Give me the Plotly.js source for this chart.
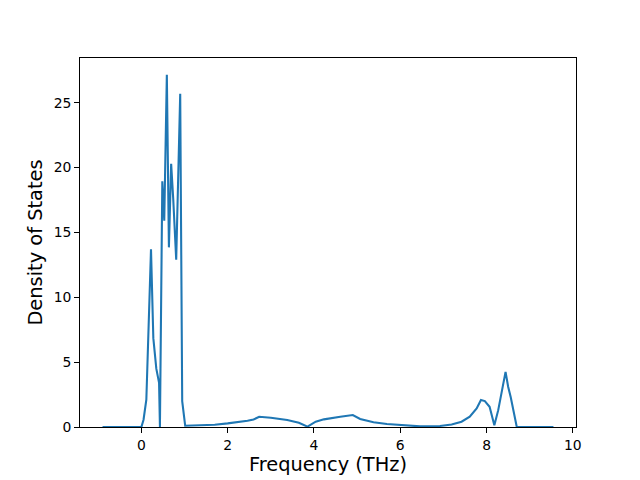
<!DOCTYPE html>
<html>
<head>
<meta charset="utf-8">
<script src="https://cdn.plot.ly/plotly-3.0.1.min.js"></script>
<style>html,body{margin:0;padding:0;background:#fff;}#chart{width:640px;height:480px;}</style>
</head>
<body>
<div id="chart"></div>
<script>
const freq = [-0.9, 0, 0.05, 0.115, 0.223, 0.277, 0.346, 0.41, 0.43, 0.485, 0.53, 0.59, 0.638, 0.69, 0.738, 0.807, 0.9, 0.946, 1.015, 1.38, 1.7, 2.0, 2.25, 2.46, 2.6, 2.73, 3.0, 3.38, 3.65, 3.85, 4.04, 4.23, 4.61, 4.9, 5.07, 5.38, 5.69, 6.0, 6.46, 6.92, 7.19, 7.42, 7.61, 7.77, 7.87, 7.96, 8.07, 8.18, 8.27, 8.44, 8.5, 8.56, 8.7, 9.55];
const dos = [0, 0, 0.56, 2.1, 13.7, 6.85, 4.5, 3.4, 0, 18.95, 15.9, 27.15, 13.85, 20.3, 17.6, 12.9, 25.7, 2.0, 0.1, 0.12, 0.18, 0.28, 0.37, 0.48, 0.58, 0.79, 0.72, 0.54, 0.33, 0.03, 0.41, 0.59, 0.79, 0.92, 0.62, 0.36, 0.23, 0.15, 0.05, 0.08, 0.2, 0.41, 0.8, 1.43, 2.08, 2.0, 1.56, 0.13, 1.3, 4.25, 3.1, 2.3, 0, 0];
const xTicks = [0, 2, 4, 6, 8, 10];
const yTicks = [0, 5, 10, 15, 20, 25];

const font = 'DejaVu Sans, sans-serif';
Plotly.newPlot('chart', [{
  x: freq, y: dos, type: 'scatter', mode: 'lines',
  line: {color: '#1f77b4', width: 2.08}
}], {
  width: 640, height: 480,
  margin: {l: 80, r: 64, t: 58, b: 53},
  paper_bgcolor: '#fff', plot_bgcolor: '#fff',
  showlegend: false,
  font: {family: font, size: 13.9, color: '#000'},
  xaxis: {
    range: [-1.4225, 10.0725], tickvals: xTicks, ticktext: xTicks.map(String),
    ticks: 'outside', ticklen: 4.9, tickwidth: 1, tickcolor: '#000',
    showline: true, linecolor: '#000', linewidth: 1, mirror: true,
    showgrid: false, zeroline: false,
    title: {text: 'Frequency (THz)', font: {family: font, size: 19.4, color: '#000'}, standoff: 5}
  },
  yaxis: {
    range: [0, 28.45], tickvals: yTicks, ticktext: yTicks.map(String),
    ticks: 'outside', ticklen: 4.9, tickwidth: 1, tickcolor: '#000',
    showline: true, linecolor: '#000', linewidth: 1, mirror: true,
    showgrid: false, zeroline: false,
    title: {text: 'Density of States', font: {family: font, size: 19.4, color: '#000'}, standoff: 5}
  }
}, {staticPlot: true, displayModeBar: false});
</script>
</body>
</html>
